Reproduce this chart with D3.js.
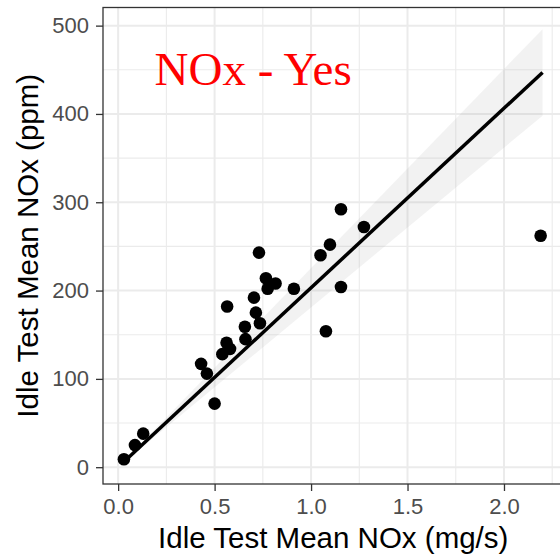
<!DOCTYPE html>
<html>
<head>
<meta charset="utf-8">
<script src="https://cdn.jsdelivr.net/npm/d3@7"></script>
<style>
  html, body { margin: 0; padding: 0; background: #fff; overflow: hidden; }
</style>
</head>
<body>
<div id="chart"></div>
<script>
// idle test values, one entry per vehicle
const idleMgS = [0.03, 0.087, 0.13, 0.43, 0.46, 0.50, 0.54, 0.562, 0.565, 0.58, 0.657, 0.66,
                 0.704, 0.714, 0.735, 0.73, 0.766, 0.775, 0.816, 0.911, 1.049, 1.077, 1.098,
                 1.155, 1.155, 1.274, 2.19];
const idlePpm = [9, 25, 38, 117, 106, 72, 128, 141, 182, 134, 159, 145,
                 192, 175, 163, 243, 214, 202, 208, 202, 240, 154, 252,
                 292, 204, 272, 262];

// fitted line and its band, read at the two ends of the data
const fitX = [0.03, 2.2];
const fitY = [6.1, 447];
const fitLo = [5.5, 398];
const fitHi = [6.7, 496];

const xTicks = [0, 0.5, 1, 1.5, 2];
const xMinor = [0.25, 0.75, 1.25, 1.75, 2.25];
const yTicks = [0, 100, 200, 300, 400, 500];
const yMinor = [50, 150, 250, 350, 450];

const titleText = "NOx - Yes";
const titleAt = [0.7, 450];
const xLabel = "Idle Test Mean NOx (mg/s)";
const yLabel = "Idle Test Mean NOx (ppm)";

const W = 560, H = 558;
const margin = {top: 7.5, left: 103};
const panelW = 460.5, panelH = 476.5;

const svg = d3.select("#chart").append("svg")
    .attr("width", W)
    .attr("height", H)
    .style("font-family", "'Liberation Sans', Arial, sans-serif");

// ggplot style 5% expansion on both scales
function expand(ext) {
    const pad = (ext[1] - ext[0]) * 0.05;
    return [ext[0] - pad, ext[1] + pad];
}
const xDom = expand(d3.extent(idleMgS.concat(fitX)));
const yDom = expand(d3.extent(idlePpm.concat(fitLo, fitHi)));

const x = d3.scaleLinear().domain(xDom).range([margin.left, margin.left + panelW]);
const y = d3.scaleLinear().domain(yDom).range([margin.top + panelH, margin.top]);

const pts = idleMgS.map((d, i) => ({x: d, y: idlePpm[i]}));
const fit = fitX.map((d, i) => ({x: d, y: fitY[i], lo: fitLo[i], hi: fitHi[i]}));

const panel = svg.append("g");

panel.append("rect")
    .attr("x", margin.left).attr("y", margin.top)
    .attr("width", panelW).attr("height", panelH)
    .attr("fill", "#fff");

// grid: minor first, then major
panel.selectAll(".vminor").data(xMinor.filter(v => v < xDom[1])).enter().append("line")
    .attr("x1", d => x(d)).attr("x2", d => x(d))
    .attr("y1", margin.top).attr("y2", margin.top + panelH)
    .attr("stroke", "#ebebeb").attr("stroke-width", 1.1);
panel.selectAll(".hminor").data(yMinor).enter().append("line")
    .attr("y1", d => y(d)).attr("y2", d => y(d))
    .attr("x1", margin.left).attr("x2", margin.left + panelW)
    .attr("stroke", "#ebebeb").attr("stroke-width", 1.1);
panel.selectAll(".vmajor").data(xTicks).enter().append("line")
    .attr("x1", d => x(d)).attr("x2", d => x(d))
    .attr("y1", margin.top).attr("y2", margin.top + panelH)
    .attr("stroke", "#ebebeb").attr("stroke-width", 2);
panel.selectAll(".hmajor").data(yTicks).enter().append("line")
    .attr("y1", d => y(d)).attr("y2", d => y(d))
    .attr("x1", margin.left).attr("x2", margin.left + panelW)
    .attr("stroke", "#ebebeb").attr("stroke-width", 2);

// confidence band
const band = d3.area()
    .x(d => x(d.x))
    .y0(d => y(d.lo))
    .y1(d => y(d.hi));
panel.append("path")
    .datum(fit)
    .attr("d", band)
    .attr("fill", "#999")
    .attr("fill-opacity", 0.13);

// points
panel.selectAll(".dot").data(pts).enter().append("circle")
    .attr("class", "dot")
    .attr("cx", d => x(d.x))
    .attr("cy", d => y(d.y))
    .attr("r", 6.3)
    .attr("fill", "#000");

// fit line
const fitLine = d3.line().x(d => x(d.x)).y(d => y(d.y));
panel.append("path")
    .datum(fit)
    .attr("d", fitLine)
    .attr("fill", "none")
    .attr("stroke", "#000")
    .attr("stroke-width", 3.5);

// annotation
svg.append("text")
    .attr("x", x(titleAt[0]))
    .attr("y", y(titleAt[1]))
    .attr("dy", "0.33em")
    .attr("text-anchor", "middle")
    .attr("fill", "#ff0000")
    .style("font-family", "'Liberation Serif', 'Times New Roman', serif")
    .style("font-size", "47px")
    .text(titleText);

// panel border
panel.append("rect")
    .attr("x", margin.left).attr("y", margin.top)
    .attr("width", panelW).attr("height", panelH)
    .attr("fill", "none")
    .attr("stroke", "#333")
    .attr("stroke-width", 1.3);

// axes
const xAxis = svg.append("g")
    .attr("transform", "translate(0," + (margin.top + panelH) + ")")
    .call(d3.axisBottom(x).tickValues(xTicks).tickSize(7).tickPadding(7.5)
        .tickFormat(d3.format(".1f")));
const yAxis = svg.append("g")
    .attr("transform", "translate(" + margin.left + ",0)")
    .call(d3.axisLeft(y).tickValues(yTicks).tickSize(7).tickPadding(7));

[xAxis, yAxis].forEach(g => {
    g.select(".domain").remove();
    g.selectAll(".tick line").attr("stroke", "#333").attr("stroke-width", 1.3);
    g.selectAll(".tick text")
        .attr("fill", "#4d4d4d")
        .style("font-size", "22px")
        .style("font-family", "'Liberation Sans', Arial, sans-serif");
});

// axis titles
svg.append("text")
    .attr("x", margin.left + panelW / 2)
    .attr("y", 548)
    .attr("text-anchor", "middle")
    .attr("fill", "#000")
    .style("font-size", "29.5px")
    .text(xLabel);

svg.append("text")
    .attr("transform", "translate(38," + (margin.top + panelH / 2) + ") rotate(-90)")
    .attr("text-anchor", "middle")
    .attr("fill", "#000")
    .style("font-size", "29.5px")
    .text(yLabel);
</script>
</body>
</html>
